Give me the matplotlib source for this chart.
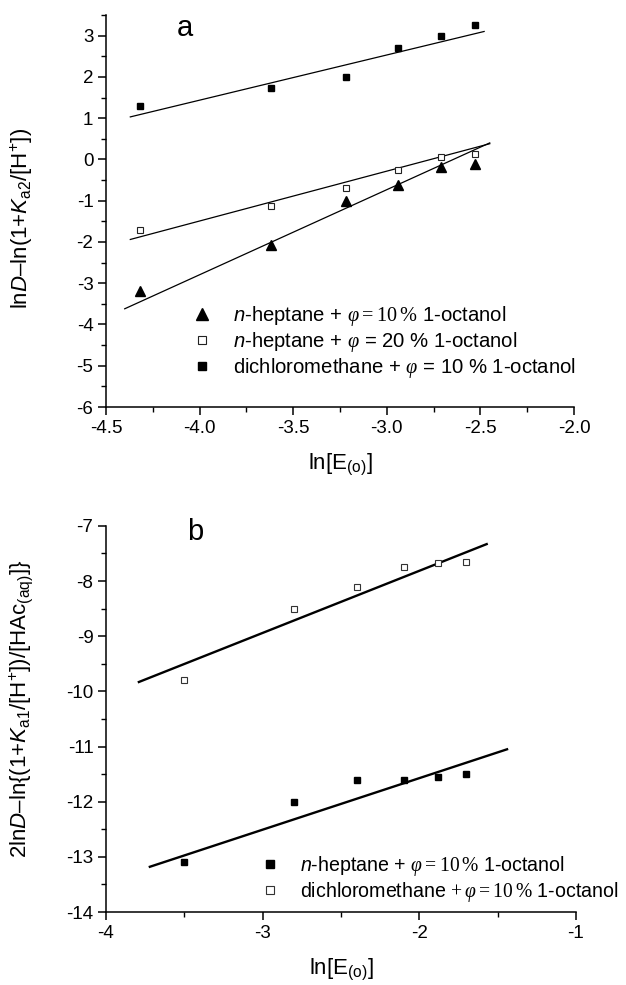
import matplotlib
matplotlib.use("Agg")
import matplotlib.pyplot as plt

plt.rcParams['font.family'] = ['Liberation Sans', 'DejaVu Sans']
plt.rcParams['mathtext.fontset'] = 'custom'
plt.rcParams['mathtext.rm'] = 'Liberation Sans'
plt.rcParams['mathtext.it'] = 'Liberation Sans:italic'
plt.rcParams['mathtext.sf'] = 'Liberation Serif'
plt.rcParams['mathtext.cal'] = 'Liberation Serif:italic'

# ----- panel a data -----
xa = [-4.32, -3.62, -3.22, -2.94, -2.71, -2.53]
ya_hep10 = [-3.2, -2.07, -1.0, -0.63, -0.18, -0.1]
ya_hep20 = [-1.7, -1.12, -0.7, -0.25, 0.07, 0.12]
ya_dcm10 = [1.3, 1.72, 2.0, 2.7, 3.0, 3.25]

# fitted lines (end points)
fa_hep10_x, fa_hep10_y = [-4.40, -2.45], [-3.62, 0.40]
fa_hep20_x, fa_hep20_y = [-4.37, -2.45], [-1.94, 0.38]
fa_dcm10_x, fa_dcm10_y = [-4.37, -2.48], [1.03, 3.10]

# ----- panel b data -----
xb = [-3.5, -2.8, -2.4, -2.1, -1.88, -1.7]
yb_hep10 = [-13.1, -12.0, -11.6, -11.6, -11.55, -11.5]
yb_dcm10 = [-9.8, -8.5, -8.1, -7.75, -7.68, -7.65]

fb_hep10_x, fb_hep10_y = [-3.72, -1.44], [-13.18, -11.05]
fb_dcm10_x, fb_dcm10_y = [-3.79, -1.57], [-9.83, -7.33]

lab_a = [r"$n$-heptane + $\mathcal{φ}\mathsf{=10\,\%}$ 1-octanol",
         r"$n$-heptane + $\mathcal{φ}$ = 20 % 1-octanol",
         r"dichloromethane + $\mathcal{φ}$ = 10 % 1-octanol"]
lab_b = [r"$n$-heptane + $\mathcal{φ}\mathsf{=10\,\%}$ 1-octanol",
         r"dichloromethane $\mathsf{+}\,\mathcal{φ}\mathsf{=10\,\%}$ 1-octanol"]

fig = plt.figure(figsize=(6.26, 9.85), dpi=100)
axa = fig.add_axes([0.1693, 0.5868, 0.7476, 0.398])
axb = fig.add_axes([0.1693, 0.0741, 0.7508, 0.392])


def style(ax):
    for s in ['top', 'right']:
        ax.spines[s].set_visible(False)
    for s in ['left', 'bottom']:
        ax.spines[s].set_linewidth(1.1)
    ax.tick_params(which='major', direction='out', length=5.5, width=1.1, labelsize=13.5, pad=3.5)
    ax.tick_params(which='minor', direction='out', length=3.5, width=1.0)


#-----panel a-----
axa.plot(fa_hep10_x, fa_hep10_y, color='black', lw=0.9)
axa.plot(fa_hep20_x, fa_hep20_y, color='black', lw=0.9)
axa.plot(fa_dcm10_x, fa_dcm10_y, color='black', lw=0.9)
axa.plot(xa, ya_hep10, ls='none', marker='^', ms=7, color='black', label=lab_a[0])
axa.plot(xa, ya_hep20, ls='none', marker='s', ms=5, mfc='white', mec='#222222', mew=0.8, label=lab_a[1])
axa.plot(xa, ya_dcm10, ls='none', marker='s', ms=5, color='black', label=lab_a[2])
axa.set_xlim(-4.5, -2.0)
axa.set_ylim(-6, 3.5)
axa.set_xticks([-4.5, -4.0, -3.5, -3.0, -2.5, -2.0])
axa.set_xticklabels(['-4.5', '-4.0', '-3.5', '-3.0', '-2.5', '-2.0'])
axa.set_xticks([-4.25, -3.75, -3.25, -2.75, -2.25], minor=True)
axa.set_yticks(range(-6, 4))
axa.set_yticklabels([str(v) for v in range(-6, 4)])
axa.set_yticks([-5.5, -4.5, -3.5, -2.5, -1.5, -0.5, 0.5, 1.5, 2.5, 3.5], minor=True)
style(axa)
axa.set_xlabel(r"ln[E$_{\mathrm{(o)}}$]", fontsize=16, labelpad=11)
axa.set_ylabel(r"ln$D$–ln(1+$K_{\mathrm{a2}}$/[H$^{+}$])", fontsize=16)
axa.yaxis.set_label_coords(-0.152, 0.482)
axa.text(-4.08, 3.19, 'a', fontsize=21, ha='center', va='center')
axa.legend(loc='upper left', bbox_to_anchor=(0.184, 0.262), frameon=False, fontsize=14.6,
           handlelength=1.0, handletextpad=1.0, borderpad=0, borderaxespad=0, labelspacing=0.1,
           markerscale=1.2)

#-----panel b-----
axb.plot(fb_hep10_x, fb_hep10_y, color='black', lw=1.7)
axb.plot(fb_dcm10_x, fb_dcm10_y, color='black', lw=1.7)
axb.plot(xb, yb_hep10, ls='none', marker='s', ms=5, color='black', label=lab_b[0])
axb.plot(xb, yb_dcm10, ls='none', marker='s', ms=5, mfc='white', mec='#333333', mew=0.8, label=lab_b[1])
axb.set_xlim(-4, -1)
axb.set_ylim(-14, -7)
axb.set_xticks([-4, -3, -2, -1])
axb.set_xticklabels(['-4', '-3', '-2', '-1'])
axb.set_xticks([-3.5, -2.5, -1.5], minor=True)
axb.set_yticks(range(-14, -6))
axb.set_yticklabels([str(v) for v in range(-14, -6)])
axb.set_yticks([-13.5, -12.5, -11.5, -10.5, -9.5, -8.5, -7.5], minor=True)
style(axb)
axb.set_xlabel(r"ln[E$_{\mathrm{(o)}}$]", fontsize=16, labelpad=11)
axb.set_ylabel(r"2ln$D$–ln{(1+$K_{\mathrm{a1}}$/[H$^{+}$])/[HAc$_{\mathrm{(aq)}}$]}", fontsize=16)
axb.yaxis.set_label_coords(-0.151, 0.526)
axb.text(-3.43, -7.11, 'b', fontsize=21, ha='center', va='center')

# the long second entry must end before the figure edge (~320 px of text in the reference)
fs_b = 14.6
tmp = fig.text(0, 0, lab_b[1], fontsize=fs_b)
fig.canvas.draw()
w = tmp.get_window_extent(fig.canvas.get_renderer()).width
tmp.remove()
if w > 318:
    fs_b = fs_b * 318 / w

axb.legend(loc='upper left', bbox_to_anchor=(0.328, 0.150), frameon=False, fontsize=fs_b,
           handlelength=14.6 / fs_b, handletextpad=0.97 * 14.6 / fs_b, borderpad=0, borderaxespad=0,
           labelspacing=0.1 * 14.6 / fs_b, markerscale=1.15)

fig.savefig('out.png', dpi=100)
